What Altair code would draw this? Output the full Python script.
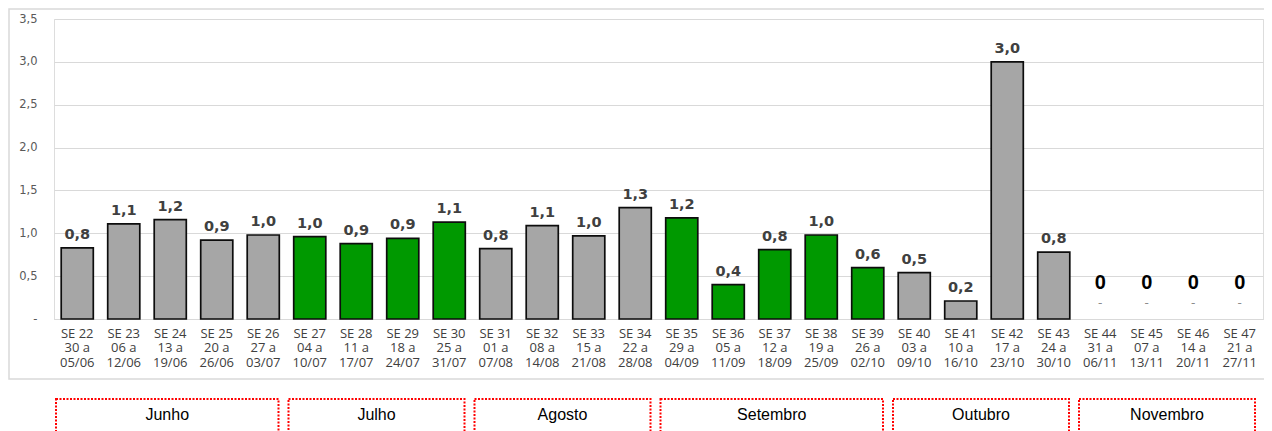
import altair as alt
import pandas as pd

semanas = ["SE 22", "SE 23", "SE 24", "SE 25", "SE 26", "SE 27", "SE 28", "SE 29", "SE 30",
           "SE 31", "SE 32", "SE 33", "SE 34", "SE 35", "SE 36", "SE 37", "SE 38", "SE 39",
           "SE 40", "SE 41", "SE 42", "SE 43", "SE 44", "SE 45", "SE 46", "SE 47"]
inicio = ["30 a", "06 a", "13 a", "20 a", "27 a", "04 a", "11 a", "18 a", "25 a",
          "01 a", "08 a", "15 a", "22 a", "29 a", "05 a", "12 a", "19 a", "26 a",
          "03 a", "10 a", "17 a", "24 a", "31 a", "07 a", "14 a", "21 a"]
fim = ["05/06", "12/06", "19/06", "26/06", "03/07", "10/07", "17/07", "24/07", "31/07",
       "07/08", "14/08", "21/08", "28/08", "04/09", "11/09", "18/09", "25/09", "02/10",
       "09/10", "16/10", "23/10", "30/10", "06/11", "13/11", "20/11", "27/11"]
valores = [0.83, 1.11, 1.16, 0.92, 0.98, 0.96, 0.88, 0.94, 1.13,
           0.82, 1.09, 0.97, 1.30, 1.18, 0.40, 0.81, 0.98, 0.60,
           0.54, 0.21, 3.00, 0.78, 0.0, 0.0, 0.0, 0.0]
grupo = ["cinza"] * 5 + ["verde"] * 4 + ["cinza"] * 4 + ["verde"] * 5 + ["cinza"] * 8

meses = ["Junho", "Julho", "Agosto", "Setembro", "Outubro", "Novembro"]
mes_primeira = ["SE 22", "SE 27", "SE 31", "SE 35", "SE 40", "SE 44"]
mes_ultima = ["SE 26", "SE 30", "SE 34", "SE 39", "SE 43", "SE 47"]

rotulos = [f"{s}|{i}|{f}" for s, i, f in zip(semanas, inicio, fim)]
df = pd.DataFrame({
    "rotulo": rotulos,
    "valor": valores,
    "grupo": grupo,
    "texto": [f"{v:.1f}".replace(".", ",") for v in valores],
})
df_meses = pd.DataFrame({
    "mes": meses,
    "ini": [semanas.index(s) for s in mes_primeira],
    "fim": [semanas.index(s) + 1 for s in mes_ultima],
})

W, H = 1209, 300
xband = alt.Scale(paddingInner=0.31, paddingOuter=0.155)
yscale = alt.Scale(domain=[0, 3.5], nice=False)

base = alt.Chart(df)

bars = base.mark_bar(stroke="#0D0D0D", strokeWidth=1.7).encode(
    x=alt.X("rotulo:N", sort=rotulos, scale=xband, title=None,
            axis=alt.Axis(labelExpr="split(datum.label, '|')", labelAngle=0,
                          labelFont="Open Sans", labelFontSize=13, labelColor="#404040",
                          labelLineHeight=14.8, labelPadding=8, labelBaseline="top",
                          labelOverlap=False, ticks=False, domainColor="#D9D9D9",
                          grid=False)),
    y=alt.Y("valor:Q", scale=yscale, title=None,
            axis=alt.Axis(values=[0, 0.5, 1, 1.5, 2, 2.5, 3, 3.5],
                          labelExpr="datum.value == 0 ? '-' : replace(format(datum.value, '.1f'), '.', ',')",
                          labelFont="DejaVu Sans", labelFontSize=11.5, labelColor="#595959",
                          labelPadding=17, ticks=False, domain=False,
                          gridColor="#D9D9D9", gridWidth=1)),
    color=alt.Color("grupo:N", scale=alt.Scale(domain=["cinza", "verde"],
                                               range=["#A6A6A6", "#009900"]), legend=None),
    strokeOpacity=alt.condition("datum.valor > 0", alt.value(1), alt.value(0)),
)

xsame = alt.X("rotulo:N", sort=rotulos, scale=xband, title=None)

labels = base.transform_filter("datum.valor > 0").mark_text(
    font="DejaVu Sans", fontWeight="bold", fontSize=14.5, color="#404040",
    baseline="alphabetic", dy=-9).encode(
    x=xsame, y=alt.Y("valor:Q", scale=yscale, title=None), text="texto:N")

zeros = base.transform_filter("datum.valor == 0").mark_text(
    font="Liberation Sans", fontWeight="bold", fontSize=20, color="#000000",
    baseline="alphabetic", dy=-30).encode(
    x=xsame, y=alt.Y("valor:Q", scale=yscale, title=None), text=alt.value("0"))

dashes = base.transform_filter("datum.valor == 0").mark_text(
    font="DejaVu Sans", fontSize=12, color="#8C8C8C",
    baseline="alphabetic", dy=-12).encode(
    x=xsame, y=alt.Y("valor:Q", scale=yscale, title=None), text=alt.value("-"))

main = alt.layer(bars, labels, zeros, dashes)

frame = alt.Chart(pd.DataFrame({"a": [0]})).mark_rect(
    fillOpacity=0, stroke="#D9D9D9", strokeWidth=1.5).encode(
    x=alt.value(-45), x2=alt.value(1300), y=alt.value(-10), y2=alt.value(360))

xq = alt.Scale(domain=[0, 26], nice=False, zero=False)
boxes = alt.Chart(df_meses).mark_rect(
    fillOpacity=0, stroke="#FF0000", strokeWidth=2, strokeDash=[2, 1.5],
    xOffset=2, x2Offset=-8).encode(
    x=alt.X("ini:Q", scale=xq, axis=None), x2="fim:Q",
    y=alt.value(380), y2=alt.value(440))

box_text = alt.Chart(df_meses).transform_calculate(
    meio="(datum.ini + datum.fim) / 2").mark_text(
    font="Liberation Sans", fontSize=16, color="#000000", baseline="middle",
    dx=-3).encode(
    x=alt.X("meio:Q", scale=xq, axis=None), y=alt.value(396), text="mes:N")

chart = alt.layer(frame, main, boxes, box_text).resolve_scale(x="independent").properties(
    width=W, height=H,
    autosize=alt.AutoSizeParams(type="none"),
    padding={"left": 46, "top": 11, "right": 1, "bottom": 112},
).configure_view(stroke=None).configure(background="white")

chart.save("out.html", embed_options={"renderer": "svg", "actions": False})
